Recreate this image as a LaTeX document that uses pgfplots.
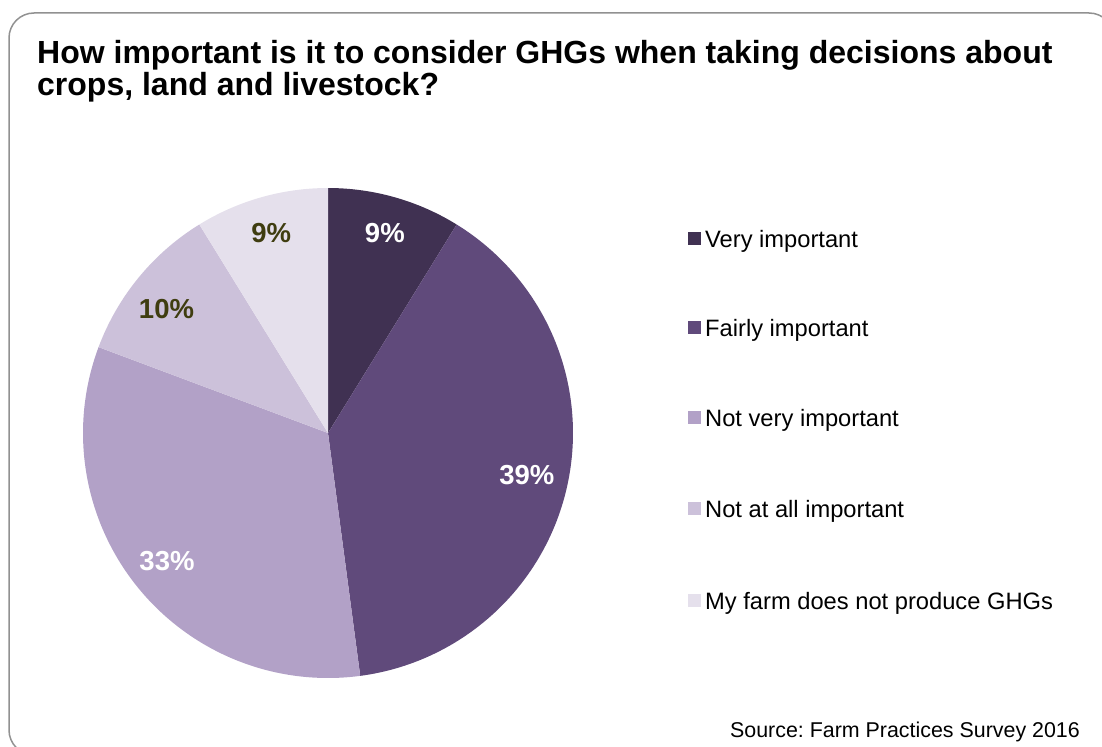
\documentclass[border=0pt]{standalone}
\usepackage{fontspec}
\setmainfont{Liberation Sans}
\usepackage{pgfplots}
\pgfplotsset{compat=1.18}
\usepackage{pgfplotstable}
\frenchspacing

\definecolor{cA}{RGB}{64,49,82}
\definecolor{cB}{RGB}{96,74,123}
\definecolor{cC}{RGB}{178,161,199}
\definecolor{cD}{RGB}{204,193,218}
\definecolor{cE}{RGB}{229,224,236}
\definecolor{lab}{RGB}{63,61,16}
\definecolor{framecol}{RGB}{145,145,145}

% shares of the pie (per cent), clockwise from the top
\pgfplotstableread{
share label
8.8   9
39.1  39
32.8  33
10.5  10
8.8   9
}\piedata

\pgfplotstablegetelem{0}{share}\of\piedata \let\sA\pgfplotsretval
\pgfplotstablegetelem{1}{share}\of\piedata \let\sB\pgfplotsretval
\pgfplotstablegetelem{2}{share}\of\piedata \let\sC\pgfplotsretval
\pgfplotstablegetelem{3}{share}\of\piedata \let\sD\pgfplotsretval
\pgfplotstablegetelem{4}{share}\of\piedata \let\sE\pgfplotsretval

\begin{document}
\begin{tikzpicture}[x=1bp,y=-1bp]
\useasboundingbox (0,0) rectangle (1102,747);
\begin{scope}
\clip (0,0) rectangle (1102,747);
\draw[framecol, line width=1.5bp, rounded corners=25bp] (9,13) rectangle (1114,755);
\end{scope}

\pgfmathsetmacro\aA{90}
\pgfmathsetmacro\aB{\aA-3.6*\sA}
\pgfmathsetmacro\aC{\aB-3.6*\sB}
\pgfmathsetmacro\aD{\aC-3.6*\sC}
\pgfmathsetmacro\aE{\aD-3.6*\sD}
\pgfmathsetmacro\aF{\aE-3.6*\sE}

\begin{axis}[at={(328bp,-433bp)}, anchor=center, width=490bp, height=490bp,
  scale only axis, xmin=-1, xmax=1, ymin=-1, ymax=1, hide axis, clip=false]
\addplot[fill=cA, draw=none, domain=\aB:\aA, samples=60] ({cos(x)},{sin(x)}) -- (axis cs:0,0) -- cycle;
\addplot[fill=cB, draw=none, domain=\aC:\aB, samples=120] ({cos(x)},{sin(x)}) -- (axis cs:0,0) -- cycle;
\addplot[fill=cC, draw=none, domain=\aD:\aC, samples=120] ({cos(x)},{sin(x)}) -- (axis cs:0,0) -- cycle;
\addplot[fill=cD, draw=none, domain=\aE:\aD, samples=60] ({cos(x)},{sin(x)}) -- (axis cs:0,0) -- cycle;
\addplot[fill=cE, draw=none, domain=\aF:\aE, samples=60] ({cos(x)},{sin(x)}) -- (axis cs:0,0) -- cycle;
\pgfmathsetmacro\mA{(\aA+\aB)/2}
\pgfmathsetmacro\mB{(\aB+\aC)/2}
\pgfmathsetmacro\mC{(\aC+\aD)/2}
\pgfmathsetmacro\mD{(\aD+\aE)/2+2}
\pgfmathsetmacro\mE{(\aE+\aF)/2}
\begin{scope}[every node/.style={font=\fontsize{27.5bp}{30bp}\selectfont\bfseries, inner sep=0}]
\node[white] at (axis cs:{0.85*cos(\mA)},{0.85*sin(\mA)}) {9\%};
\node[white] at (axis cs:{0.83*cos(\mB)},{0.83*sin(\mB)}) {39\%};
\node[white] at (axis cs:{0.84*cos(\mC)},{0.84*sin(\mC)}) {33\%};
\node[lab] at (axis cs:{0.83*cos(\mD)},{0.83*sin(\mD)}) {10\%};
\node[lab] at (axis cs:{0.85*cos(\mE)},{0.85*sin(\mE)}) {9\%};
\end{scope}
\end{axis}

% title
\begin{scope}[every node/.style={font=\fontsize{32bp}{36bp}\selectfont\bfseries, inner sep=0, anchor=base west}]
\node at (37,64) {How important is it to consider GHGs when taking decisions about};
\node at (37,96) {crops, land and livestock?};
\end{scope}

% legend
\begin{scope}[every node/.style={font=\fontsize{23.7bp}{26bp}\selectfont, inner sep=0, anchor=base west}]
\fill[cA] (688,232) rectangle (701,245); \node at (705,247) {Very important};
\fill[cB] (688,321) rectangle (701,334); \node at (705,336) {Fairly important};
\fill[cC] (688,411) rectangle (701,424); \node at (705,426) {Not very important};
\fill[cD] (688,502) rectangle (701,515); \node at (705,517) {Not at all important};
\fill[cE] (688,594) rectangle (701,607); \node at (705,609) {My farm does not produce GHGs};
\end{scope}

\node[font=\fontsize{21.4bp}{24bp}\selectfont, inner sep=0, anchor=base east] at (1080,737) {Source: Farm Practices Survey 2016};
\end{tikzpicture}
\end{document}
